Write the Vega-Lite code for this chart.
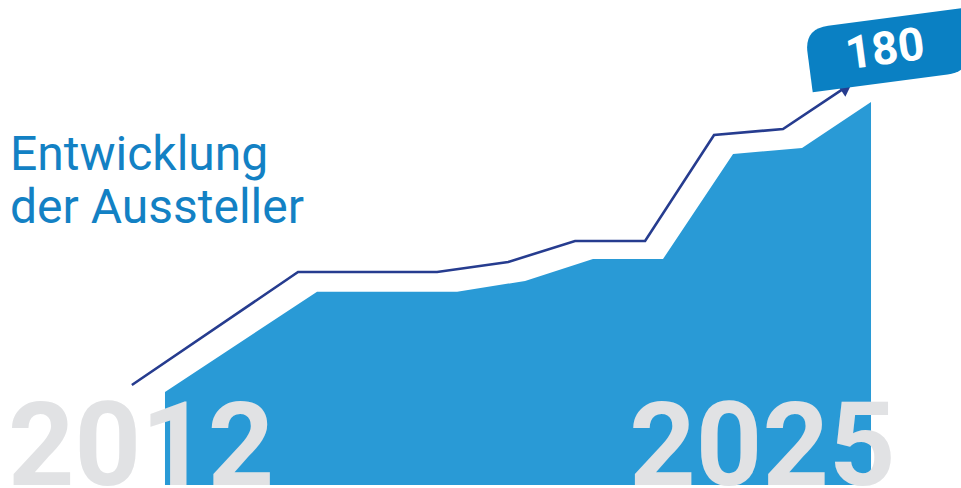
{
  "$schema": "https://vega.github.io/schema/vega-lite/v6.json",
  "width": 961,
  "height": 488,
  "autosize": {"type": "none"},
  "padding": 0,
  "background": "white",
  "config": {"view": {"stroke": null}},
  "datasets": {
    "flaeche": [
      {"jahr": 2012.0, "aussteller": 43.7},
      {"jahr": 2014.8, "aussteller": 90.8},
      {"jahr": 2017.38, "aussteller": 90.8},
      {"jahr": 2018.63, "aussteller": 95.9},
      {"jahr": 2019.88, "aussteller": 106.2},
      {"jahr": 2021.17, "aussteller": 106.2},
      {"jahr": 2022.46, "aussteller": 155.6},
      {"jahr": 2023.73, "aussteller": 158.4},
      {"jahr": 2025.0, "aussteller": 180}
    ],
    "linie": [
      {"jahr": 2011.39, "aussteller": 47.0},
      {"jahr": 2014.45, "aussteller": 100.1},
      {"jahr": 2017.01, "aussteller": 100.1},
      {"jahr": 2018.32, "aussteller": 104.8},
      {"jahr": 2019.55, "aussteller": 114.7},
      {"jahr": 2020.84, "aussteller": 114.7},
      {"jahr": 2022.11, "aussteller": 164.5},
      {"jahr": 2023.38, "aussteller": 167.3},
      {"jahr": 2024.55, "aussteller": 187.2}
    ]
  },
  "layer": [
    {
      "data": {"name": "flaeche"},
      "mark": {"type": "area", "color": "#299ad6", "interpolate": "linear"},
      "encoding": {
        "x": {"field": "jahr", "type": "quantitative", "scale": {"domain": [2008.962, 2026.657], "nice": false, "zero": false}, "axis": null},
        "y": {"field": "aussteller", "type": "quantitative", "scale": {"domain": [-1.41, 227.94], "nice": false, "zero": false}, "axis": null},
        "y2": {"datum": 0}
      }
    },
    {
      "data": {"name": "linie"},
      "mark": {"type": "line", "color": "#263c8f", "strokeWidth": 2.6, "strokeJoin": "miter"},
      "encoding": {
        "x": {"field": "jahr", "type": "quantitative"},
        "y": {"field": "aussteller", "type": "quantitative"}
      }
    },
    {
      "data": {"values": [{"jahr": 2024.55, "aussteller": 187.2}]},
      "mark": {"type": "point", "shape": "triangle-up", "filled": true, "color": "#263c8f", "opacity": 1, "size": 230, "angle": 56, "strokeWidth": 0},
      "encoding": {
        "x": {"field": "jahr", "type": "quantitative"},
        "y": {"field": "aussteller", "type": "quantitative"}
      }
    },
    {
      "data": {"values": [{"jahr": 2025.31, "aussteller": 204.4}]},
      "mark": {"type": "point", "shape": "M -1 -0.1 Q -1 -0.4 -0.7 -0.4 L 1 -0.4 L 1 0.1 Q 1 0.4 0.7 0.4 L -1 0.4 Z", "filled": true, "color": "#0a80c3", "opacity": 1, "size": 25600, "angle": -7.5, "strokeWidth": 0},
      "encoding": {
        "x": {"field": "jahr", "type": "quantitative"},
        "y": {"field": "aussteller", "type": "quantitative"}
      }
    },
    {
      "data": {"values": [{"jahr": 2025.26, "aussteller": 204.4, "text": "180"}]},
      "mark": {"type": "text", "font": "Roboto", "fontWeight": "bold", "fontSize": 46, "color": "white", "align": "center", "baseline": "middle", "angle": -7.5},
      "encoding": {
        "x": {"field": "jahr", "type": "quantitative"},
        "y": {"field": "aussteller", "type": "quantitative"},
        "text": {"field": "text"}
      }
    },
    {
      "data": {"values": [
        {"jahr": 2009.109, "aussteller": 0, "text": "2012"}
      ]},
      "mark": {"type": "text", "font": "Roboto", "fontWeight": "bold", "fontSize": 116, "color": "#e1e2e4", "align": "left", "baseline": "alphabetic"},
      "encoding": {
        "x": {"field": "jahr", "type": "quantitative"},
        "y": {"field": "aussteller", "type": "quantitative"},
        "text": {"field": "text"}
      }
    },
    {
      "data": {"values": [
        {"jahr": 2023.0, "aussteller": 0, "text": "2025"}
      ]},
      "mark": {"type": "text", "font": "Roboto", "fontWeight": "bold", "fontSize": 116, "color": "#e1e2e4", "align": "center", "baseline": "alphabetic"},
      "encoding": {
        "x": {"field": "jahr", "type": "quantitative"},
        "y": {"field": "aussteller", "type": "quantitative"},
        "text": {"field": "text"}
      }
    },
    {
      "data": {"values": [
        {"jahr": 2009.146, "aussteller": 148.04, "text": "Entwicklung\nder Aussteller"}
      ]},
      "mark": {"type": "text", "font": "Roboto", "fontWeight": "normal", "fontSize": 48, "color": "#1381c4", "align": "left", "baseline": "alphabetic", "lineBreak": "\n", "lineHeight": 53},
      "encoding": {
        "x": {"field": "jahr", "type": "quantitative"},
        "y": {"field": "aussteller", "type": "quantitative"},
        "text": {"field": "text"}
      }
    }
  ]
}
